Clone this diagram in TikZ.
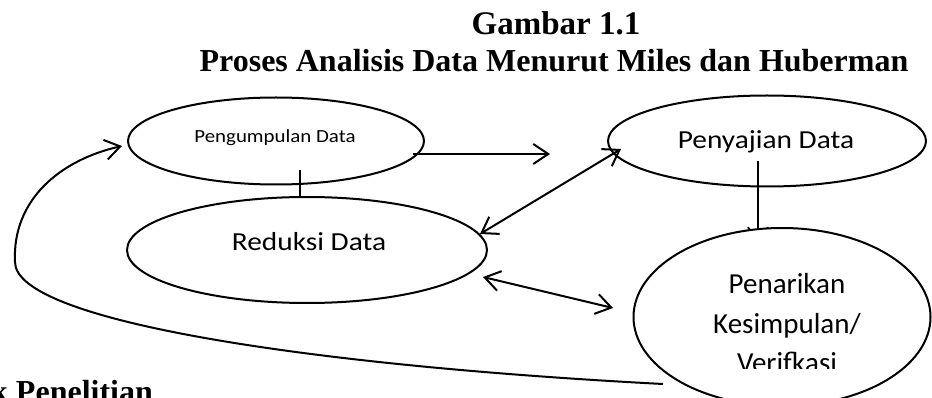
\documentclass[tikz,border=0pt]{standalone}
\usepackage{fontspec}
\setmainfont{Liberation Serif}
\newfontfamily\calfont{Carlito}
\usetikzlibrary{shapes.geometric,arrows.meta,calc}
\newcommand{\wide}[1]{\scalebox{1.13}[1]{#1}}
\begin{document}
\begin{tikzpicture}[x=1pt,y=-1pt,
  ell/.style={draw, ellipse, line width=2pt, inner sep=0pt},
  conn/.style={line width=2pt},
  tip/.style={-{Straight Barb[length=15pt,width=20pt]}},
  dtip/.style={{Straight Barb[length=15pt,width=20pt]}-{Straight Barb[length=15pt,width=20pt]}},
  ttl/.style={font=\bfseries\fontsize{32}{36}\selectfont, anchor=base, inner sep=0pt},
  lbl/.style={font=\calfont\fontsize{26}{30}\selectfont, anchor=base, inner sep=0pt},
  lblsmall/.style={lbl, font=\calfont\fontsize{18.5}{22}\selectfont},
  lblbig/.style={lbl, font=\calfont\fontsize{29}{34}\selectfont},
]
\useasboundingbox (0,0) rectangle (932,398);

\node[ttl, font=\bfseries\fontsize{33}{36}\selectfont] (t1) at (556,35) {Gambar 1.1};
\node[ttl] (t2) at (554,72) {Proses Analisis Data Menurut Miles dan Huberman};

\node[ell, minimum width=296pt, minimum height=87pt] (pd) at (276,141) {};
\node[ell, minimum width=360pt, minimum height=106pt] (red) at (307,250) {};
\node[ell, minimum width=318pt, minimum height=91pt] (pyj) at (767,141) {};

\node[lblsmall] (pdt) at (275,143) {\wide{Pengumpulan Data}};
\node[lbl] (redt) at (309,251) {\wide{Reduksi Data}};
\node[lbl] (pyjt) at (766,148.5) {\wide{Penyajian Data}};

\draw[conn,tip] ($(pd.center)+(137,13)$) -- ($(pd.center)+(274,13)$);
\draw[conn] ($(pd.center)+(24,29)$) -- ($(red.center)+(-7,-54)$);
\draw[conn,dtip] ($(red.center)+(173,-16)$) -- ($(pyj.center)+(-146,8)$);
\draw[conn,tip] ($(pyj.center)+(-9,20)$) -- ($(pyj.center)+(-9,103)$);

\node[ell, fill=white, minimum width=297pt, minimum height=178pt] (pen) at (782,317) {};
\begin{scope}
  \clip (600,220) rectangle (932,368);
  \node[lblbig] (pent1) at (787,294) {Penarikan};
  \node[lblbig] (pent2) at (787,333) {Kesimpulan/};
  \node[lblbig] (pent3) at (787,372) {Verifkasi};
\end{scope}

\draw[conn,dtip] ($(red.center)+(176,27)$) -- ($(pen.center)+(-169,-9)$);

\coordinate (ls) at ($(pen.center)+(-119,67)$);
\draw[conn,tip] (ls) .. controls (300,365) and (15,320) .. (15,262)
  .. controls (12,200) and (60,160) .. ($(pd.west)+(-5,5)$);

\node[ttl, anchor=base west] (kp) at (-10,402) {k Penelitian};
\end{tikzpicture}
\end{document}
